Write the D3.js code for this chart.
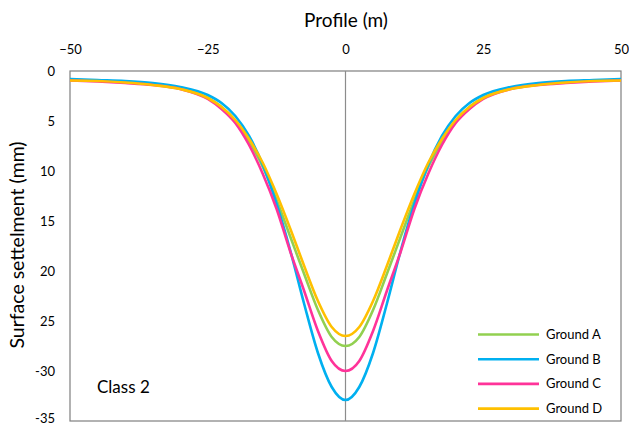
<!DOCTYPE html>
<html>
<head>
<meta charset="utf-8">
<script src="https://cdn.jsdelivr.net/npm/d3@7"></script>
<style>
  html, body { margin: 0; padding: 0; background: #fff; }
  svg { display: block; font-family: Lato, "Open Sans", sans-serif; }
</style>
</head>
<body>
<svg id="chart" width="629" height="427"></svg>
<script>
// Horizontal offset from the tunnel axis (m)
const profile = [-50, -45, -40, -35, -30, -25, -22.5, -20, -17.5, -15, -12.5, -10, -7.5, -5, -2.5,
                 0, 2.5, 5, 7.5, 10, 12.5, 15, 17.5, 20, 22.5, 25, 30, 35, 40, 45, 50];

// Surface settlement (mm) for each ground type
const groundA = [0.9, 0.95, 1.1, 1.35, 1.75, 2.7, 3.6, 5.0, 7.0, 9.6, 12.9, 16.6, 20.3, 23.9, 26.6,
                 27.5, 26.6, 23.9, 20.3, 16.6, 12.9, 9.6, 7.0, 5.0, 3.6, 2.7, 1.75, 1.35, 1.1, 0.95, 0.9];
const groundB = [0.8, 0.9, 1.0, 1.2, 1.6, 2.4, 3.2, 4.5, 6.5, 9.4, 13.3, 18.0, 23.3, 28.2, 31.6,
                 32.9, 31.6, 28.2, 23.3, 18.0, 13.3, 9.4, 6.5, 4.5, 3.2, 2.4, 1.6, 1.2, 1.0, 0.9, 0.8];
const groundC = [0.95, 1.05, 1.2, 1.4, 1.8, 2.8, 3.8, 5.2, 7.4, 10.3, 13.8, 18.1, 22.0, 26.0, 29.0,
                 30.0, 29.0, 26.0, 22.0, 18.1, 13.8, 10.3, 7.4, 5.2, 3.8, 2.8, 1.8, 1.4, 1.2, 1.05, 0.95];
const groundD = [0.95, 1.0, 1.15, 1.4, 1.8, 2.7, 3.6, 4.9, 6.8, 9.2, 12.3, 15.8, 19.5, 23.0, 25.6,
                 26.5, 25.6, 23.0, 19.5, 15.8, 12.3, 9.2, 6.8, 4.9, 3.6, 2.7, 1.8, 1.4, 1.15, 1.0, 0.95];

const seriesNames = ["Ground A", "Ground B", "Ground C", "Ground D"];
const seriesColors = ["#92d050", "#00b0f0", "#ff3399", "#ffc000"];
const seriesValues = [groundA, groundB, groundC, groundD];

const xTicks = [-50, -25, 0, 25, 50];
const yTicks = [0, 5, 10, 15, 20, 25, 30, 35];
const yTickLabels = ["0", "5", "10", "15", "20", "25", "-30", "-35"];

const svg = d3.select("#chart");
const plot = { left: 70, right: 621, top: 71, bottom: 421 };

const x = d3.scaleLinear().domain([-50, 50]).range([plot.left, plot.right]);
const y = d3.scaleLinear().domain([0, 35]).range([plot.top, plot.bottom]);

// Plot frame
svg.append("rect")
  .attr("x", plot.left).attr("y", plot.top)
  .attr("width", plot.right - plot.left).attr("height", plot.bottom - plot.top)
  .attr("fill", "none").attr("stroke", "#7f7f7f").attr("stroke-width", 1.2);

// Tunnel axis line at zero offset
svg.append("line")
  .attr("x1", x(0)).attr("x2", x(0))
  .attr("y1", plot.top).attr("y2", plot.bottom)
  .attr("stroke", "#8c8c8c").attr("stroke-width", 1.2);

// Top axis labels
const xAxis = d3.axisTop(x).tickValues(xTicks).tickSize(0).tickPadding(17)
  .tickFormat(d3.format("d"));
const gx = svg.append("g").attr("transform", `translate(0,${plot.top})`).call(xAxis);
gx.select(".domain").remove();
gx.selectAll("text").attr("font-size", 13).attr("fill", "#000")
  .style("font-family", "Lato, 'Open Sans', sans-serif");

// Left axis labels (the lowest one is nudged up so it stays inside the view)
const yAxis = d3.axisLeft(y).tickValues(yTicks).tickSize(0).tickPadding(15)
  .tickFormat((d, i) => yTickLabels[i]);
const gy = svg.append("g").attr("transform", `translate(${plot.left},0)`).call(yAxis);
gy.select(".domain").remove();
gy.selectAll("text").attr("font-size", 13).attr("fill", "#000")
  .style("font-family", "Lato, 'Open Sans', sans-serif");
gy.selectAll(".tick").filter(d => d === 35).select("text").attr("dy", "0.1em");

// Axis titles
svg.append("text")
  .attr("x", 346).attr("y", 27)
  .attr("text-anchor", "middle").attr("font-size", 19).attr("fill", "#000")
  .text("Profile (m)");

svg.append("text")
  .attr("transform", "translate(24,245) rotate(-90)")
  .attr("text-anchor", "middle").attr("font-size", 19.5).attr("fill", "#000")
  .text("Surface settelment (mm)");

// Settlement curves
const line = d3.line()
  .x((d, i) => x(profile[i]))
  .y(d => y(d))
  .curve(d3.curveMonotoneX);

seriesValues.forEach((vals, k) => {
  svg.append("path")
    .datum(vals)
    .attr("d", line)
    .attr("fill", "none")
    .attr("stroke", seriesColors[k])
    .attr("stroke-width", 2.6)
    .attr("stroke-linejoin", "round");
});

// Legend
const legend = svg.append("g");
seriesNames.forEach((name, k) => {
  const ly = 334.5 + k * 24.7;
  legend.append("line")
    .attr("x1", 478).attr("x2", 539)
    .attr("y1", ly).attr("y2", ly)
    .attr("stroke", seriesColors[k]).attr("stroke-width", 2.6);
  legend.append("text")
    .attr("x", 546).attr("y", ly + 4.5)
    .attr("font-size", 13).attr("fill", "#000")
    .text(name);
});

// Class label
svg.append("text")
  .attr("x", 97).attr("y", 393)
  .attr("font-size", 17).attr("fill", "#000")
  .text("Class 2");
</script>
</body>
</html>
